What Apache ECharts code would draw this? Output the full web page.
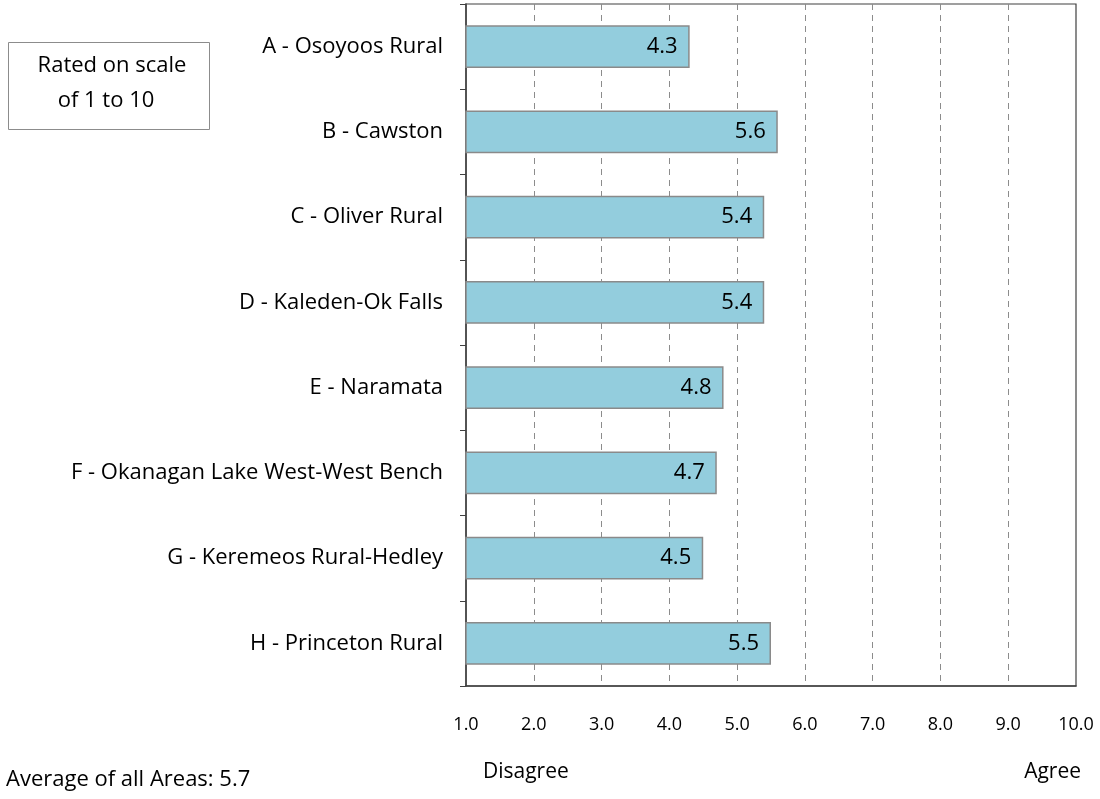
<!DOCTYPE html>
<html>
<head>
<meta charset="utf-8">
<script src="https://cdn.jsdelivr.net/npm/echarts@6/dist/echarts.min.js"></script>
<style>
  html, body { margin: 0; padding: 0; background: #fff; }
  #container { width: 1100px; height: 799px; }
</style>
</head>
<body>
<div id="container"></div>
<script>
const areas = [
  'A - Osoyoos Rural',
  'B - Cawston',
  'C - Oliver Rural',
  'D - Kaleden-Ok Falls',
  'E - Naramata',
  'F - Okanagan Lake West-West Bench',
  'G - Keremeos Rural-Hedley',
  'H - Princeton Rural'
]
const ratings = [4.3, 5.6, 5.4, 5.4, 4.8, 4.7, 4.5, 5.5]
const scaleMin = 1
const scaleMax = 10
const average = 5.7

const font = '"Open Sans", Lato, "DejaVu Sans", sans-serif'
let myChart = echarts.init(document.getElementById('container'), null, { renderer: 'canvas' })
let option = {
  backgroundColor: '#fff',
  animation: false,
  textStyle: { fontFamily: font },
  grid: {
    left: 466,
    right: 24,
    top: 4,
    bottom: 113,
    show: true,
    borderColor: '#404040',
    borderWidth: 1.2
  },
  xAxis: {
    type: 'value',
    min: scaleMin,
    max: scaleMax,
    interval: 1,
    axisLine: { show: true, lineStyle: { color: '#404040', width: 1.5 } },
    axisTick: { show: false },
    axisLabel: {
      margin: 30,
      color: '#000',
      fontSize: 18,
      fontFamily: font,
      formatter: v => v.toFixed(1)
    },
    splitLine: {
      show: true,
      lineStyle: { color: '#8c8c8c', type: [6, 5], width: 1 }
    }
  },
  yAxis: {
    type: 'category',
    inverse: true,
    data: areas,
    axisLine: { show: true, lineStyle: { color: '#404040', width: 1.5 } },
    axisTick: { show: true, length: 6, lineStyle: { color: '#404040' } },
    axisLabel: {
      margin: 23,
      color: '#000',
      fontSize: 22,
      fontFamily: font
    }
  },
  series: [
    {
      type: 'bar',
      data: ratings,
      barWidth: '50%',
      itemStyle: {
        color: '#93cddd',
        borderColor: '#8a8a8a',
        borderWidth: 1.5
      },
      label: {
        show: true,
        position: 'insideRight',
        distance: 12,
        color: '#000',
        fontSize: 22,
        fontFamily: font,
        formatter: p => p.value.toFixed(1)
      }
    }
  ],
  graphic: [
    {
      type: 'rect',
      left: 8,
      top: 42,
      shape: { width: 201, height: 87 },
      style: { fill: '#fff', stroke: '#8c8c8c', lineWidth: 1 }
    },
    {
      type: 'text',
      x: 112,
      y: 66,
      style: {
        text: 'Rated on scale',
        fontSize: 22,
        fontFamily: font,
        fill: '#000',
        align: 'center',
        verticalAlign: 'middle'
      }
    },
    {
      type: 'text',
      x: 106,
      y: 101,
      style: {
        text: 'of 1 to 10',
        fontSize: 22,
        fontFamily: font,
        fill: '#000',
        align: 'center',
        verticalAlign: 'middle'
      }
    },
    {
      type: 'text',
      x: 483,
      y: 772,
      style: { text: 'Disagree', fontSize: 21, fontFamily: font, fill: '#000', verticalAlign: 'middle' }
    },
    {
      type: 'text',
      x: 1081,
      y: 772,
      style: { text: 'Agree', fontSize: 21, fontFamily: font, fill: '#000', align: 'right', verticalAlign: 'middle' }
    },
    {
      type: 'text',
      x: 6,
      y: 780,
      style: {
        text: 'Average of all Areas: ' + average.toFixed(1),
        fontSize: 22,
        fontFamily: font,
        fill: '#000',
        verticalAlign: 'middle'
      }
    }
  ]
}
myChart.setOption(option)
</script>
</body>
</html>
